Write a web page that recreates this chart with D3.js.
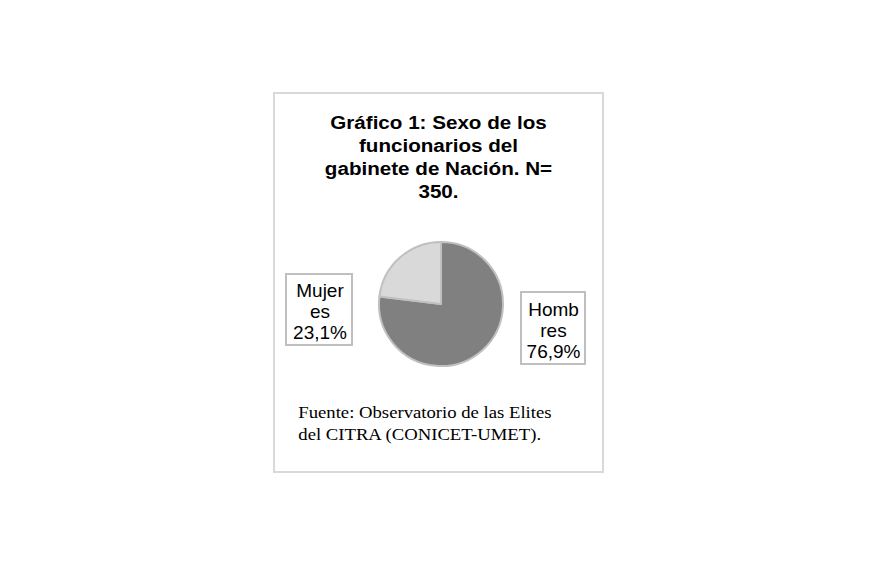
<!DOCTYPE html>
<html><head><meta charset="utf-8">
<script src="https://cdn.jsdelivr.net/npm/d3@7"></script>
<style>body{margin:0;background:#fff}svg{display:block}</style>
</head><body>
<script>
const categories = ["Hombres", "Mujeres"];
const values = [76.9, 23.1];
const labelLines = [["Homb", "res", "76,9%"], ["Mujer", "es", "23,1%"]];
const titleLines = ["Gráfico 1: Sexo de los", "funcionarios del", "gabinete de Nación. N=", "350."];
const sourceLines = ["Fuente: Observatorio de las Elites", "del CITRA (CONICET-UMET)."];
const colors = ["#808080", "#d9d9d9"];

const W = 876, H = 564;
const svg = d3.select("body").append("svg").attr("width", W).attr("height", H);

svg.append("rect").attr("x", 274).attr("y", 93).attr("width", 329).attr("height", 379)
  .attr("fill", "#fff").attr("stroke", "#d9d9d9").attr("stroke-width", 2);

const tcx = 438.5;
svg.append("g").attr("transform", `translate(${tcx},0) scale(1.085,1) translate(${-tcx},0)`)
  .selectAll("text").data(titleLines).join("text")
  .attr("x", tcx).attr("y", (d, i) => 129.5 + i * 22.7)
  .attr("text-anchor", "middle")
  .attr("font-family", "Liberation Sans, Arial, sans-serif")
  .attr("font-weight", "bold").attr("font-size", 19).attr("fill", "#000")
  .text(d => d);

const cx = 441, cy = 304, r = 62;
const pie = d3.pie().sort(null).value(d => d)(values);
const arc = d3.arc().innerRadius(0).outerRadius(r);
svg.append("g").attr("transform", `translate(${cx},${cy})`)
  .selectAll("path").data(pie).join("path")
  .attr("d", arc).attr("fill", (d, i) => colors[i])
  .attr("stroke", "#c0c0c0").attr("stroke-width", 2).attr("stroke-linejoin", "round");

const boxes = [
  {x: 521, y: 292, w: 64, h: 72, cx: 553.5, by: 316.3},
  {x: 286, y: 274, w: 66, h: 71, cx: 320, by: 296.7}
];
boxes.forEach((b, i) => {
  svg.append("rect").attr("x", b.x).attr("y", b.y).attr("width", b.w).attr("height", b.h)
    .attr("fill", "#fff").attr("stroke", "#bfbfbf").attr("stroke-width", 2);
  svg.append("g").selectAll("text").data(labelLines[i]).join("text")
    .attr("x", b.cx).attr("y", (d, j) => b.by + j * 20.9)
    .attr("text-anchor", "middle")
    .attr("font-family", "Liberation Sans, Arial, sans-serif")
    .attr("font-size", 19).attr("fill", "#000")
    .text(d => d);
});

const sx0 = 298.3;
svg.append("g").attr("transform", `translate(${sx0},0) scale(1.1,1) translate(${-sx0},0)`)
  .selectAll("text").data(sourceLines).join("text")
  .attr("x", sx0).attr("y", (d, i) => 418.5 + i * 22)
  .attr("font-family", "Liberation Serif, Times New Roman, serif")
  .attr("font-size", 17).attr("fill", "#000")
  .text(d => d);
</script>
</body></html>
